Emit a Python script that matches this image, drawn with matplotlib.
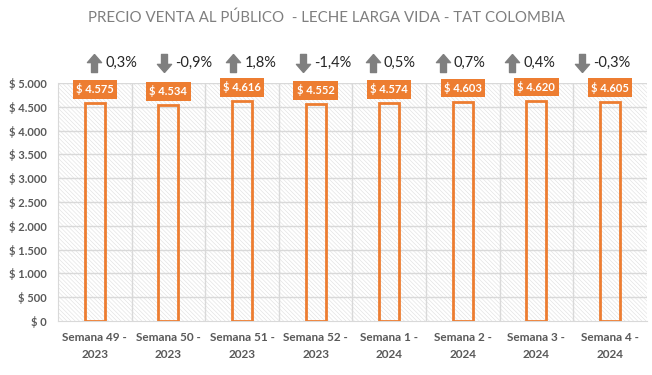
import matplotlib.pyplot as plt
import numpy as np
from matplotlib.patches import Rectangle

semanas = ["Semana 49 -\n2023", "Semana 50 -\n2023", "Semana 51 -\n2023", "Semana 52 -\n2023",
           "Semana 1 -\n2024", "Semana 2 -\n2024", "Semana 3 -\n2024", "Semana 4 -\n2024"]
precios = [4575, 4534, 4616, 4552, 4574, 4603, 4620, 4605]
variacion = [0.3, -0.9, 1.8, -1.4, 0.5, 0.7, 0.4, -0.3]
yticks = np.arange(0, 5001, 500)

naranja = "#ED7D31"
gris = "#595959"

plt.rcParams['font.family'] = ['Lato', 'DejaVu Sans']
plt.rcParams['hatch.color'] = "#e2e2e2"
plt.rcParams['hatch.linewidth'] = 0.45

fig = plt.figure(figsize=(6.52, 3.75), dpi=100)
ax = fig.add_axes([0.089, 0.144, 0.903, 0.635])

x = np.arange(len(semanas))
ax.bar(x, precios, width=0.27, facecolor="none", edgecolor=naranja, linewidth=2, zorder=3)

# fondo rayado
ax.add_patch(Rectangle((0, 0), 1, 1, transform=ax.transAxes, facecolor="white",
                       hatch="\\\\\\\\\\\\\\\\", linewidth=0, zorder=0))

ax.set_xlim(-0.5, len(semanas) - 0.5)
ax.set_ylim(0, 5000)
ax.set_yticks(yticks)
ax.set_yticklabels(["$ 0" if v == 0 else "$ " + f"{v:,}".replace(",", ".") for v in yticks],
                   fontsize=8, fontweight="bold", color=gris)
ax.set_xticks(x)
ax.set_xticklabels(semanas, fontsize=8.5, fontweight="bold", color=gris, linespacing=1.6)
ax.tick_params(length=0, pad=8)

for yv in yticks[1:]:
    ax.axhline(yv, color="#d9d9d9", linewidth=1, zorder=1)
for xv in np.arange(0.5, len(semanas) - 0.5, 1):
    ax.axvline(xv, color="#d9d9d9", linewidth=1, zorder=1)

for s in ["top", "right"]:
    ax.spines[s].set_visible(False)
ax.spines["left"].set_color("#d9d9d9")
ax.spines["bottom"].set_color("#d9d9d9")

# etiquetas de precio
for i, p in enumerate(precios):
    ax.annotate("$ " + f"{p:,}".replace(",", "."), (i, p), xytext=(0, 10), textcoords="offset points",
                ha="center", va="center", fontsize=8, fontweight="bold", color="white", zorder=5,
                bbox=dict(boxstyle="square,pad=0.3", facecolor=naranja, edgecolor="none"))

# variaciones (fila de indicadores sobre el grafico)
flecha_arriba = [(0, 1), (0.78, 0.1), (0.33, 0.1), (0.33, -1), (-0.33, -1), (-0.33, 0.1), (-0.78, 0.1), (0, 1)]
flecha_abajo = [(px, -py) for px, py in flecha_arriba]
for i, v in enumerate(variacion):
    fx = (94 + i * 69.7) / 652
    fig.lines.append(plt.Line2D([fx], [0.832], marker=flecha_arriba if v > 0 else flecha_abajo,
                                markersize=13, color="#7f7f7f", transform=fig.transFigure))
    fig.text(fx + 11 / 652, 0.832, f"{v:.1f}%".replace(".", ","),
             ha="left", va="center", fontsize=10.5, color="#262626")

fig.text(0.5, 0.952, "PRECIO VENTA AL PÚBLICO  - LECHE LARGA VIDA - TAT COLOMBIA",
         ha="center", va="center", fontsize=10.8, color="#7f7f7f")

fig.savefig("out.png", dpi=100)
